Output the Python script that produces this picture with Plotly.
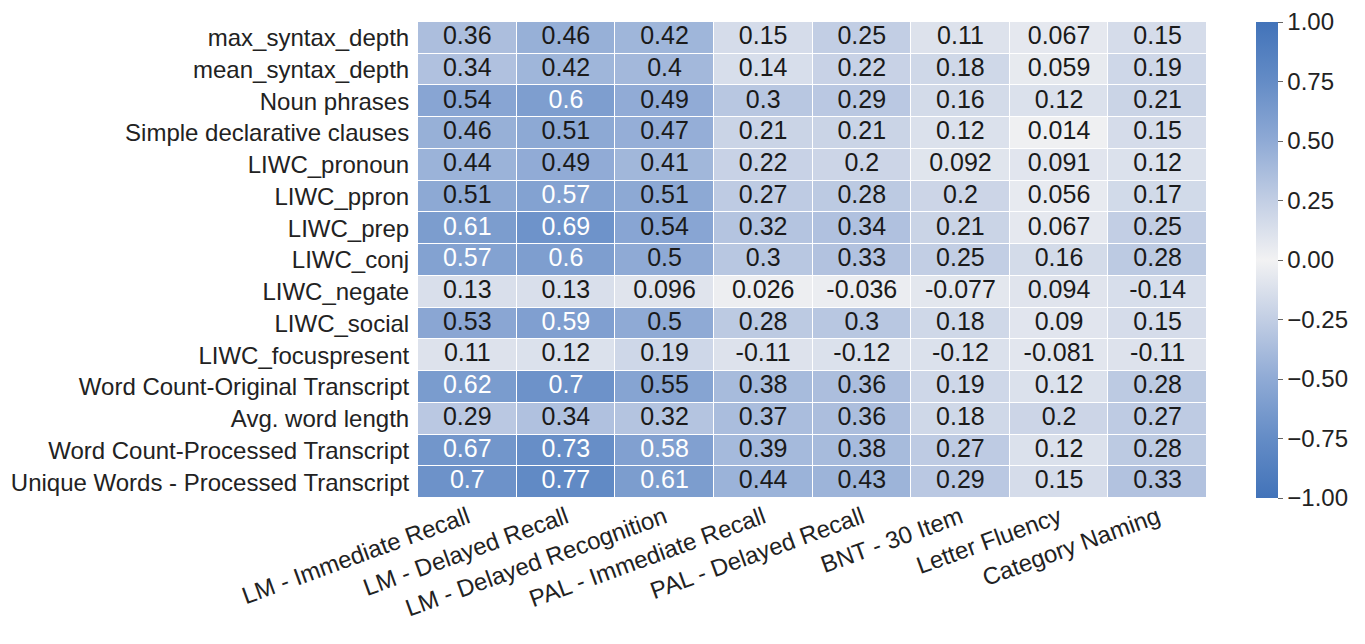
import plotly.graph_objects as go

rows = ["max_syntax_depth", "mean_syntax_depth", "Noun phrases", "Simple declarative clauses",
        "LIWC_pronoun", "LIWC_ppron", "LIWC_prep", "LIWC_conj", "LIWC_negate", "LIWC_social",
        "LIWC_focuspresent", "Word Count-Original Transcript", "Avg. word length",
        "Word Count-Processed Transcript", "Unique Words - Processed Transcript"]
cols = ["LM - Immediate Recall", "LM - Delayed Recall", "LM - Delayed Recognition",
        "PAL - Immediate Recall", "PAL - Delayed Recall", "BNT - 30 Item",
        "Letter Fluency", "Category Naming"]

max_syntax_depth = [0.36, 0.46, 0.42, 0.15, 0.25, 0.11, 0.067, 0.15]
mean_syntax_depth = [0.34, 0.42, 0.4, 0.14, 0.22, 0.18, 0.059, 0.19]
noun_phrases = [0.54, 0.6, 0.49, 0.3, 0.29, 0.16, 0.12, 0.21]
simple_decl = [0.46, 0.51, 0.47, 0.21, 0.21, 0.12, 0.014, 0.15]
liwc_pronoun = [0.44, 0.49, 0.41, 0.22, 0.2, 0.092, 0.091, 0.12]
liwc_ppron = [0.51, 0.57, 0.51, 0.27, 0.28, 0.2, 0.056, 0.17]
liwc_prep = [0.61, 0.69, 0.54, 0.32, 0.34, 0.21, 0.067, 0.25]
liwc_conj = [0.57, 0.6, 0.5, 0.3, 0.33, 0.25, 0.16, 0.28]
liwc_negate = [0.13, 0.13, 0.096, 0.026, -0.036, -0.077, 0.094, -0.14]
liwc_social = [0.53, 0.59, 0.5, 0.28, 0.3, 0.18, 0.09, 0.15]
liwc_focuspresent = [0.11, 0.12, 0.19, -0.11, -0.12, -0.12, -0.081, -0.11]
wc_original = [0.62, 0.7, 0.55, 0.38, 0.36, 0.19, 0.12, 0.28]
avg_word_len = [0.29, 0.34, 0.32, 0.37, 0.36, 0.18, 0.2, 0.27]
wc_processed = [0.67, 0.73, 0.58, 0.39, 0.38, 0.27, 0.12, 0.28]
unique_processed = [0.7, 0.77, 0.61, 0.44, 0.43, 0.29, 0.15, 0.33]

z = [max_syntax_depth, mean_syntax_depth, noun_phrases, simple_decl, liwc_pronoun,
     liwc_ppron, liwc_prep, liwc_conj, liwc_negate, liwc_social, liwc_focuspresent,
     wc_original, avg_word_len, wc_processed, unique_processed]

cbar_vals = [-1, -0.75, -0.5, -0.25, 0, 0.25, 0.5, 0.75, 1]

colorscale = [
    [0.0, "rgb(66,115,185)"],
    [0.125, "rgb(100,140,198)"],
    [0.25, "rgb(143,170,213)"],
    [0.375, "rgb(194,206,228)"],
    [0.5, "rgb(242,242,243)"],
    [0.625, "rgb(194,206,228)"],
    [0.75, "rgb(143,170,213)"],
    [0.875, "rgb(100,140,198)"],
    [1.0, "rgb(66,115,185)"],
]

FONT = "Liberation Sans, Arial, sans-serif"

fig = go.Figure()
fig.add_trace(go.Heatmap(
    z=z, x=cols, y=rows, zmin=-1, zmax=1, colorscale=colorscale,
    xgap=1, ygap=1, hoverinfo="skip",
    colorbar=dict(
        x=1.062, xanchor="left", xpad=0, y=0.5, yanchor="middle", ypad=0,
        len=1.0, lenmode="fraction",
        thickness=22, outlinewidth=0, tickformat=".2f",
        tickmode="array", tickvals=cbar_vals, ticklabeloverflow="allow",
        ticks="outside", ticklen=5, tickcolor="#666", tickwidth=1,
        tickfont=dict(family=FONT, size=24, color="#222"),
    ),
))

tx, ty, tt, tc = [], [], [], []
for r, row in zip(rows, z):
    for c, v in zip(cols, row):
        tx.append(c)
        ty.append(r)
        tt.append(str(v))
        tc.append("white" if v >= 0.565 else "#1a1a1a")

fig.add_trace(go.Scatter(
    x=tx, y=ty, text=tt, mode="text", hoverinfo="skip", showlegend=False,
    textfont=dict(family=FONT, size=25, color=tc),
))

fig.update_layout(
    width=1365, height=644,
    margin=dict(l=410, r=166, t=14, b=154, autoexpand=False),
    paper_bgcolor="white", plot_bgcolor="white",
    font=dict(family=FONT, size=24, color="#222"),
    showlegend=False,
)
fig.update_xaxes(tickangle=-20, tickfont=dict(family=FONT, size=24, color="#222"),
                 range=[-0.5, len(cols) - 0.5],
                 showgrid=False, zeroline=False, ticks="", ticklen=0)
fig.update_yaxes(range=[len(rows) - 0.5, -0.5],
                 tickfont=dict(family=FONT, size=24, color="#222"),
                 showgrid=False, zeroline=False, ticks="outside", ticklen=3,
                 tickcolor="rgba(0,0,0,0)")

fig.write_html("out.html")
